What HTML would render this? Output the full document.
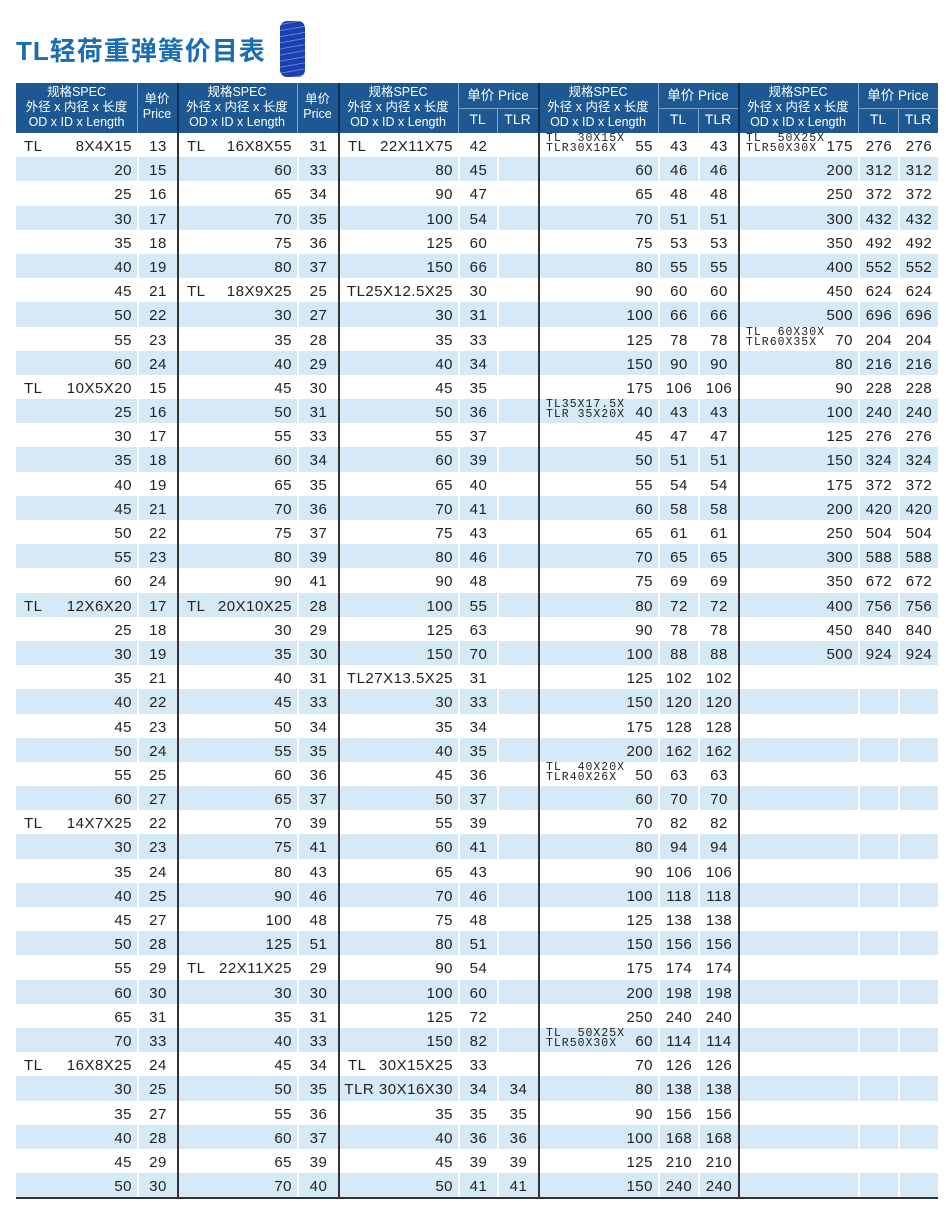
<!DOCTYPE html>
<html><head><meta charset="utf-8"><style>
*{margin:0;padding:0;box-sizing:border-box}
body{width:946px;height:1212px;background:#fff;position:relative;font-family:"Liberation Sans","Noto Sans CJK SC",sans-serif;color:#222;overflow:hidden}
.title{position:absolute;left:16px;top:31px;font-size:26px;font-weight:bold;color:#1a6db3;letter-spacing:1px;font-family:"Liberation Sans","Noto Sans CJK SC",sans-serif}
.spring{position:absolute;left:280px;top:21px;width:25px;height:56px;border-radius:7px;background:repeating-linear-gradient(170deg,#1b3fae 0 3px,#5a80e0 3px 4px,#1b3fae 4px 6px);}
.hd{position:absolute;left:16px;top:83px;width:922px;height:50px;background:#1d5893;color:#fff}
.hd div{position:absolute;text-align:center;font-size:12.5px;line-height:15px}
.hd .v{position:absolute;top:0;width:1px;height:50px;background:#7fa3c8}
.hd .h{position:absolute;height:1px;background:#7fa3c8}
#t{position:absolute;left:16px;top:133px;width:922px}
.r{display:flex;height:24.2px;font-size:15px;line-height:24.2px;letter-spacing:0.5px}
.r.s i{background:#d5e9f7}
.r i{font-style:normal;display:block;height:100%;position:relative;border-left:2px solid #fff;text-align:center;padding-top:2px}
.r i:nth-child(1){width:121px;border-left:none}
.r i:nth-child(2){width:40px}
.r i:nth-child(3){width:120px}
.r i:nth-child(4){width:41px}
.r i:nth-child(5){width:120px}
.r i:nth-child(6){width:39px}
.r i:nth-child(7){width:41px}
.r i:nth-child(8){width:120px}
.r i:nth-child(9){width:40px}
.r i:nth-child(10){width:40px}
.r i:nth-child(11){width:120px}
.r i:nth-child(12){width:40px}
.r i:nth-child(13){width:40px}
.r i:nth-child(3),.r i:nth-child(5),.r i:nth-child(8),.r i:nth-child(11){border-left:2px solid #333}
.r i:nth-child(1),.r i:nth-child(3),.r i:nth-child(5),.r i:nth-child(8),.r i:nth-child(11){text-align:right;padding-right:5px}
.r b{font-weight:normal;position:absolute;left:8px;top:2px}
.r em{font-style:normal;position:absolute;left:6px;top:1px;font-family:"Liberation Mono",monospace;font-size:11.5px;line-height:10px;letter-spacing:1px;text-align:left;white-space:nowrap}
.bot{position:absolute;left:16px;top:1197px;width:922px;height:2px;background:#333}
</style></head><body>
<div class="title">TL轻荷重弹簧价目表</div>
<div class="spring"></div>
<div class="hd">
<div style="left:0;width:121px;top:2px">规格SPEC<br>外径 x 内径 x 长度<br>OD x ID x Length</div>
<div style="left:121px;width:40px;top:9px">单价<br>Price</div>
<div style="left:161px;width:120px;top:2px">规格SPEC<br>外径 x 内径 x 长度<br>OD x ID x Length</div>
<div style="left:281px;width:41px;top:9px">单价<br>Price</div>
<div style="left:322px;width:120px;top:2px">规格SPEC<br>外径 x 内径 x 长度<br>OD x ID x Length</div>
<div style="left:442px;width:80px;top:5px;font-size:13.5px">单价 Price</div>
<div style="left:442px;width:39px;top:29px;font-size:14px">TL</div>
<div style="left:481px;width:41px;top:29px;font-size:14px">TLR</div>
<div style="left:522px;width:120px;top:2px">规格SPEC<br>外径 x 内径 x 长度<br>OD x ID x Length</div>
<div style="left:642px;width:80px;top:5px;font-size:13.5px">单价 Price</div>
<div style="left:642px;width:40px;top:29px;font-size:14px">TL</div>
<div style="left:682px;width:40px;top:29px;font-size:14px">TLR</div>
<div style="left:722px;width:120px;top:2px">规格SPEC<br>外径 x 内径 x 长度<br>OD x ID x Length</div>
<div style="left:842px;width:80px;top:5px;font-size:13.5px">单价 Price</div>
<div style="left:842px;width:40px;top:29px;font-size:14px">TL</div>
<div style="left:882px;width:40px;top:29px;font-size:14px">TLR</div>
<span class="v" style="left:121px"></span><span class="v" style="left:161px;background:#0d2f55;width:2px"></span><span class="v" style="left:281px"></span><span class="v" style="left:322px;background:#0d2f55;width:2px"></span><span class="v" style="left:442px"></span><span class="v" style="left:481px;top:25px;height:25px"></span><span class="v" style="left:522px;background:#0d2f55;width:2px"></span><span class="v" style="left:642px"></span><span class="v" style="left:682px;top:25px;height:25px"></span><span class="v" style="left:722px;background:#0d2f55;width:2px"></span><span class="v" style="left:842px"></span><span class="v" style="left:882px;top:25px;height:25px"></span>
<span class="h" style="left:442px;width:80px;top:25px"></span><span class="h" style="left:642px;width:80px;top:25px"></span><span class="h" style="left:842px;width:80px;top:25px"></span>
</div>
<div id="t">
<div class="r"><i><b>TL</b>8X4X15</i><i>13</i><i><b>TL</b>16X8X55</i><i>31</i><i><b>TL</b>22X11X75</i><i>42</i><i></i><i><em>TL&nbsp;&nbsp;30X15X<br>TLR30X16X</em>55</i><i>43</i><i>43</i><i><em>TL&nbsp;&nbsp;50X25X<br>TLR50X30X</em>175</i><i>276</i><i>276</i></div>
<div class="r s"><i>20</i><i>15</i><i>60</i><i>33</i><i>80</i><i>45</i><i></i><i>60</i><i>46</i><i>46</i><i>200</i><i>312</i><i>312</i></div>
<div class="r"><i>25</i><i>16</i><i>65</i><i>34</i><i>90</i><i>47</i><i></i><i>65</i><i>48</i><i>48</i><i>250</i><i>372</i><i>372</i></div>
<div class="r s"><i>30</i><i>17</i><i>70</i><i>35</i><i>100</i><i>54</i><i></i><i>70</i><i>51</i><i>51</i><i>300</i><i>432</i><i>432</i></div>
<div class="r"><i>35</i><i>18</i><i>75</i><i>36</i><i>125</i><i>60</i><i></i><i>75</i><i>53</i><i>53</i><i>350</i><i>492</i><i>492</i></div>
<div class="r s"><i>40</i><i>19</i><i>80</i><i>37</i><i>150</i><i>66</i><i></i><i>80</i><i>55</i><i>55</i><i>400</i><i>552</i><i>552</i></div>
<div class="r"><i>45</i><i>21</i><i><b>TL</b>18X9X25</i><i>25</i><i>TL25X12.5X25</i><i>30</i><i></i><i>90</i><i>60</i><i>60</i><i>450</i><i>624</i><i>624</i></div>
<div class="r s"><i>50</i><i>22</i><i>30</i><i>27</i><i>30</i><i>31</i><i></i><i>100</i><i>66</i><i>66</i><i>500</i><i>696</i><i>696</i></div>
<div class="r"><i>55</i><i>23</i><i>35</i><i>28</i><i>35</i><i>33</i><i></i><i>125</i><i>78</i><i>78</i><i><em>TL&nbsp;&nbsp;60X30X<br>TLR60X35X</em>70</i><i>204</i><i>204</i></div>
<div class="r s"><i>60</i><i>24</i><i>40</i><i>29</i><i>40</i><i>34</i><i></i><i>150</i><i>90</i><i>90</i><i>80</i><i>216</i><i>216</i></div>
<div class="r"><i><b>TL</b>10X5X20</i><i>15</i><i>45</i><i>30</i><i>45</i><i>35</i><i></i><i>175</i><i>106</i><i>106</i><i>90</i><i>228</i><i>228</i></div>
<div class="r s"><i>25</i><i>16</i><i>50</i><i>31</i><i>50</i><i>36</i><i></i><i><em>TL35X17.5X<br>TLR 35X20X</em>40</i><i>43</i><i>43</i><i>100</i><i>240</i><i>240</i></div>
<div class="r"><i>30</i><i>17</i><i>55</i><i>33</i><i>55</i><i>37</i><i></i><i>45</i><i>47</i><i>47</i><i>125</i><i>276</i><i>276</i></div>
<div class="r s"><i>35</i><i>18</i><i>60</i><i>34</i><i>60</i><i>39</i><i></i><i>50</i><i>51</i><i>51</i><i>150</i><i>324</i><i>324</i></div>
<div class="r"><i>40</i><i>19</i><i>65</i><i>35</i><i>65</i><i>40</i><i></i><i>55</i><i>54</i><i>54</i><i>175</i><i>372</i><i>372</i></div>
<div class="r s"><i>45</i><i>21</i><i>70</i><i>36</i><i>70</i><i>41</i><i></i><i>60</i><i>58</i><i>58</i><i>200</i><i>420</i><i>420</i></div>
<div class="r"><i>50</i><i>22</i><i>75</i><i>37</i><i>75</i><i>43</i><i></i><i>65</i><i>61</i><i>61</i><i>250</i><i>504</i><i>504</i></div>
<div class="r s"><i>55</i><i>23</i><i>80</i><i>39</i><i>80</i><i>46</i><i></i><i>70</i><i>65</i><i>65</i><i>300</i><i>588</i><i>588</i></div>
<div class="r"><i>60</i><i>24</i><i>90</i><i>41</i><i>90</i><i>48</i><i></i><i>75</i><i>69</i><i>69</i><i>350</i><i>672</i><i>672</i></div>
<div class="r s"><i><b>TL</b>12X6X20</i><i>17</i><i><b>TL</b>20X10X25</i><i>28</i><i>100</i><i>55</i><i></i><i>80</i><i>72</i><i>72</i><i>400</i><i>756</i><i>756</i></div>
<div class="r"><i>25</i><i>18</i><i>30</i><i>29</i><i>125</i><i>63</i><i></i><i>90</i><i>78</i><i>78</i><i>450</i><i>840</i><i>840</i></div>
<div class="r s"><i>30</i><i>19</i><i>35</i><i>30</i><i>150</i><i>70</i><i></i><i>100</i><i>88</i><i>88</i><i>500</i><i>924</i><i>924</i></div>
<div class="r"><i>35</i><i>21</i><i>40</i><i>31</i><i>TL27X13.5X25</i><i>31</i><i></i><i>125</i><i>102</i><i>102</i><i></i><i></i><i></i></div>
<div class="r s"><i>40</i><i>22</i><i>45</i><i>33</i><i>30</i><i>33</i><i></i><i>150</i><i>120</i><i>120</i><i></i><i></i><i></i></div>
<div class="r"><i>45</i><i>23</i><i>50</i><i>34</i><i>35</i><i>34</i><i></i><i>175</i><i>128</i><i>128</i><i></i><i></i><i></i></div>
<div class="r s"><i>50</i><i>24</i><i>55</i><i>35</i><i>40</i><i>35</i><i></i><i>200</i><i>162</i><i>162</i><i></i><i></i><i></i></div>
<div class="r"><i>55</i><i>25</i><i>60</i><i>36</i><i>45</i><i>36</i><i></i><i><em>TL&nbsp;&nbsp;40X20X<br>TLR40X26X</em>50</i><i>63</i><i>63</i><i></i><i></i><i></i></div>
<div class="r s"><i>60</i><i>27</i><i>65</i><i>37</i><i>50</i><i>37</i><i></i><i>60</i><i>70</i><i>70</i><i></i><i></i><i></i></div>
<div class="r"><i><b>TL</b>14X7X25</i><i>22</i><i>70</i><i>39</i><i>55</i><i>39</i><i></i><i>70</i><i>82</i><i>82</i><i></i><i></i><i></i></div>
<div class="r s"><i>30</i><i>23</i><i>75</i><i>41</i><i>60</i><i>41</i><i></i><i>80</i><i>94</i><i>94</i><i></i><i></i><i></i></div>
<div class="r"><i>35</i><i>24</i><i>80</i><i>43</i><i>65</i><i>43</i><i></i><i>90</i><i>106</i><i>106</i><i></i><i></i><i></i></div>
<div class="r s"><i>40</i><i>25</i><i>90</i><i>46</i><i>70</i><i>46</i><i></i><i>100</i><i>118</i><i>118</i><i></i><i></i><i></i></div>
<div class="r"><i>45</i><i>27</i><i>100</i><i>48</i><i>75</i><i>48</i><i></i><i>125</i><i>138</i><i>138</i><i></i><i></i><i></i></div>
<div class="r s"><i>50</i><i>28</i><i>125</i><i>51</i><i>80</i><i>51</i><i></i><i>150</i><i>156</i><i>156</i><i></i><i></i><i></i></div>
<div class="r"><i>55</i><i>29</i><i><b>TL</b>22X11X25</i><i>29</i><i>90</i><i>54</i><i></i><i>175</i><i>174</i><i>174</i><i></i><i></i><i></i></div>
<div class="r s"><i>60</i><i>30</i><i>30</i><i>30</i><i>100</i><i>60</i><i></i><i>200</i><i>198</i><i>198</i><i></i><i></i><i></i></div>
<div class="r"><i>65</i><i>31</i><i>35</i><i>31</i><i>125</i><i>72</i><i></i><i>250</i><i>240</i><i>240</i><i></i><i></i><i></i></div>
<div class="r s"><i>70</i><i>33</i><i>40</i><i>33</i><i>150</i><i>82</i><i></i><i><em>TL&nbsp;&nbsp;50X25X<br>TLR50X30X</em>60</i><i>114</i><i>114</i><i></i><i></i><i></i></div>
<div class="r"><i><b>TL</b>16X8X25</i><i>24</i><i>45</i><i>34</i><i><b>TL</b>30X15X25</i><i>33</i><i></i><i>70</i><i>126</i><i>126</i><i></i><i></i><i></i></div>
<div class="r s"><i>30</i><i>25</i><i>50</i><i>35</i><i>TLR 30X16X30</i><i>34</i><i>34</i><i>80</i><i>138</i><i>138</i><i></i><i></i><i></i></div>
<div class="r"><i>35</i><i>27</i><i>55</i><i>36</i><i>35</i><i>35</i><i>35</i><i>90</i><i>156</i><i>156</i><i></i><i></i><i></i></div>
<div class="r s"><i>40</i><i>28</i><i>60</i><i>37</i><i>40</i><i>36</i><i>36</i><i>100</i><i>168</i><i>168</i><i></i><i></i><i></i></div>
<div class="r"><i>45</i><i>29</i><i>65</i><i>39</i><i>45</i><i>39</i><i>39</i><i>125</i><i>210</i><i>210</i><i></i><i></i><i></i></div>
<div class="r s"><i>50</i><i>30</i><i>70</i><i>40</i><i>50</i><i>41</i><i>41</i><i>150</i><i>240</i><i>240</i><i></i><i></i><i></i></div>
</div>
<div class="bot"></div>
</body></html>
